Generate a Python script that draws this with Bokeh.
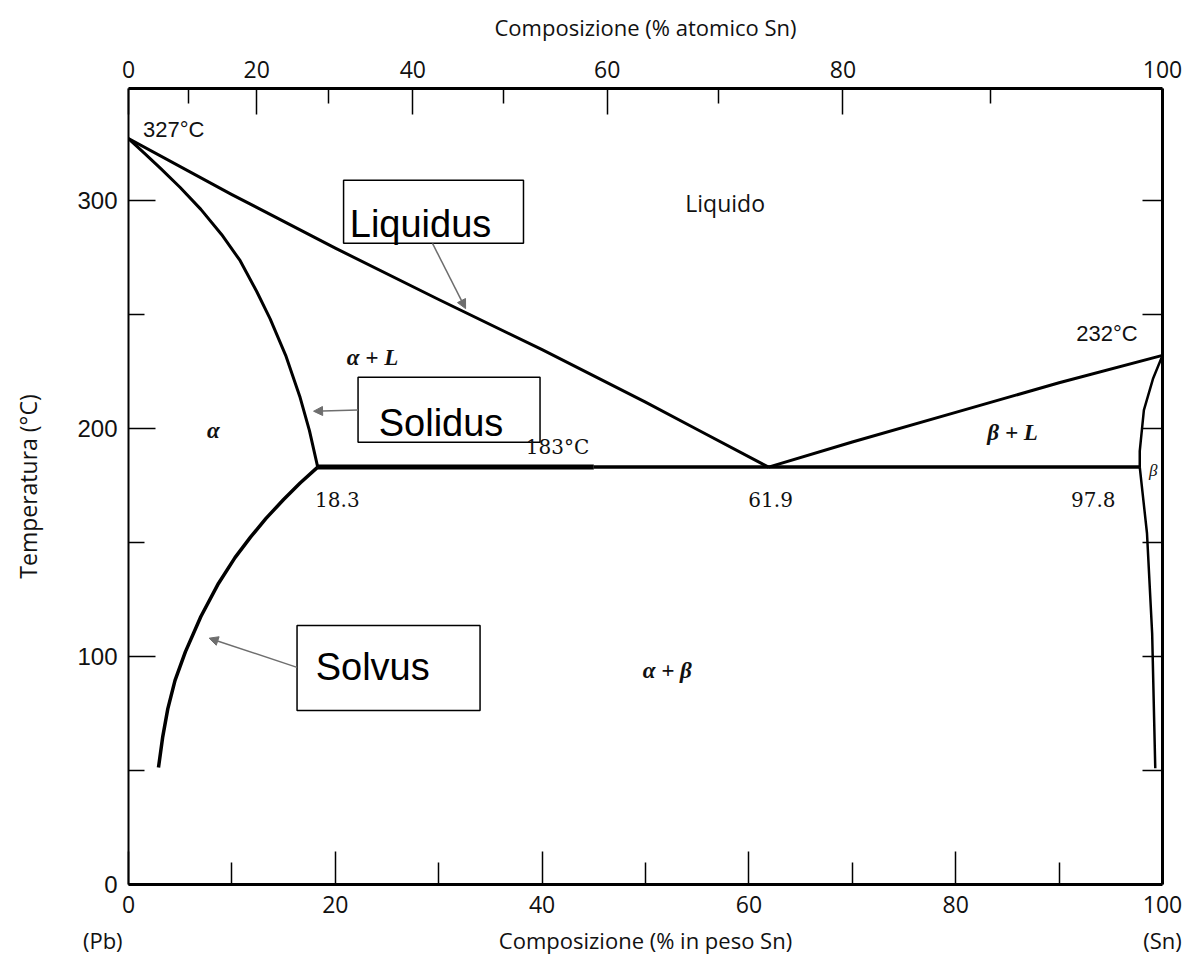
from bokeh.plotting import figure
from bokeh.models import (Range1d, LinearAxis, FixedTicker, Label, Arrow, NormalHead,
                          CustomJSTickFormatter)
from bokeh.embed import file_html
from bokeh.resources import INLINE

# ---------------- data (wt% Sn, temperature in degC) ----------------
liquidus_left_x = [0, 10, 20, 30, 40, 50, 55, 61.9]
liquidus_left_t = [327, 302.5, 279, 256.5, 234.5, 211.5, 199.5, 183]
liquidus_right_x = [61.9, 70, 80, 90, 100]
liquidus_right_t = [183, 194, 207, 220, 232]
solidus_alpha_x = [0, 1.5, 3.1, 5.0, 7.0, 9.0, 10.8, 12.4, 13.7, 15.2, 16.6, 17.5, 18.3]
solidus_alpha_t = [327, 320.8, 314, 305.6, 296, 285, 273.5, 260, 248, 232, 213.5, 199, 183]
solvus_alpha_x = [18.3, 16.6, 15.0, 13.3, 11.8, 10.3, 8.7, 7.0, 5.5, 4.5, 3.8, 3.3, 2.9]
solvus_alpha_t = [183, 176, 168.8, 160.5, 152.3, 143.3, 132, 117.5, 102, 89.5, 77, 64.5, 51.3]
solidus_beta_x = [100, 99.1, 98.2, 97.8, 97.8]
solidus_beta_t = [232, 222, 208, 190, 183]
solvus_beta_x = [97.8, 98.5, 99.0, 99.3]
solvus_beta_t = [183, 154, 110, 51]
eutectic_thick_x = [18.3, 45]
eutectic_thin_x = [45, 97.8]
eutectic_t = [183, 183]

# axis ticks
bottom_ticks = [0, 20, 40, 60, 80, 100]
bottom_minor = [10, 30, 50, 70, 90]
left_ticks = [0, 100, 200, 300]
left_minor = [50, 150, 250]
right_ticks = [50, 100, 150, 200, 250, 300]
# top axis: atomic % Sn labels, placed at the equivalent wt% positions
top_tick_pos = [0, 12.4, 27.5, 46.3, 69.1, 100]
top_tick_labels = ["0", "20", "40", "60", "80", "100"]
top_minor_pos = [5.8, 19.3, 36.3, 57.1, 83.4]
# lower caption row: pure elements at the ends, axis title in the middle
caption_pos = [0, 50, 100]
caption_labels = ["(Pb)" + "\u00a0" * 9, "Composizione (% in peso Sn)", "(Sn)"]

# text annotations: (text, x, t)
point_labels = [("18.3", 20.2, 169), ("61.9", 62.1, 169), ("97.8", 93.3, 169)]
greek_labels = [("\u03b1 + L", 23.6, 231), ("\u03b1", 8.2, 199), ("\u03b2 + L", 85.5, 198),
                ("\u03b1 + \u03b2", 52.1, 94)]

# callout boxes: name, left, right, bottom, top, text x, text baseline t
callouts = [("Liquidus", 20.8, 38.2, 281.1, 308.8, 21.4, 289.5),
            ("Solidus", 22.2, 39.8, 193.9, 222.4, 24.2, 202.5),
            ("Solvus", 16.3, 34.0, 76.3, 113.6, 18.1, 95.5)]
# arrows: x_start, t_start, x_end, t_end
arrows = [(29.4, 281.1, 32.6, 252.5),
          (22.2, 208.0, 17.9, 207.5),
          (16.3, 95.2, 7.8, 108.0)]

LOOKUP = """
let best = 0, d = 1e9;
for (let i = 0; i < pos.length; i++) {
  const dd = Math.abs(pos[i] - tick);
  if (dd < d) { d = dd; best = i; }
}
return labels[best];
"""

# ---------------- figure ----------------
p = figure(width=1190, height=964, x_range=Range1d(0, 100), y_range=Range1d(0, 349),
           output_backend="svg", toolbar_location=None,
           min_border_left=128, min_border_right=28, min_border_top=88, min_border_bottom=80)
p.grid.visible = False
p.outline_line_color = None
p.background_fill_color = "white"
p.border_fill_color = "white"

bottom = p.xaxis[0]
left = p.yaxis[0]
bottom.ticker = FixedTicker(ticks=bottom_ticks, minor_ticks=bottom_minor)
left.ticker = FixedTicker(ticks=left_ticks, minor_ticks=left_minor)

top = LinearAxis(ticker=FixedTicker(ticks=top_tick_pos, minor_ticks=top_minor_pos),
                 formatter=CustomJSTickFormatter(
                     args=dict(pos=top_tick_pos, labels=top_tick_labels), code=LOOKUP))
p.add_layout(top, "above")

# right axis: ticks only (no labels)
right = LinearAxis(ticker=FixedTicker(ticks=[], minor_ticks=right_ticks))
p.add_layout(right, "right")

for ax in (bottom, left, top, right):
    ax.major_tick_out = 0
    ax.minor_tick_out = 0
    ax.major_tick_line_color = "black"
    ax.minor_tick_line_color = "black"
    ax.major_tick_line_width = 1.5
    ax.minor_tick_line_width = 1.5
    ax.axis_line_color = "black"
    ax.axis_line_width = 3
    ax.major_label_text_color = "#111111"
    ax.axis_label_text_font_style = "normal"
    ax.axis_label_text_color = "#111111"

left.axis_line_width = 2
bottom.major_tick_in = 33
bottom.minor_tick_in = 22
left.major_tick_in = 27
left.minor_tick_in = 16
top.major_tick_in = 26
top.minor_tick_in = 15
right.minor_tick_in = 20

bottom.major_label_text_font = "Open Sans"
bottom.major_label_text_font_size = "23px"
bottom.major_label_standoff = 11

# caption row below the bottom axis
caption = LinearAxis(ticker=FixedTicker(ticks=caption_pos, minor_ticks=[]),
                     formatter=CustomJSTickFormatter(
                         args=dict(pos=caption_pos, labels=caption_labels), code=LOOKUP))
caption.axis_line_color = None
caption.major_tick_line_color = None
caption.minor_tick_line_color = None
caption.major_tick_in = 0
caption.major_tick_out = 0
caption.minor_tick_in = 0
caption.minor_tick_out = 0
caption.major_label_standoff = 9
caption.major_label_text_font = "Open Sans"
caption.major_label_text_font_size = "22px"
caption.major_label_text_color = "#111111"
p.add_layout(caption, "below")

top.major_label_text_font = "Open Sans"
top.major_label_text_font_size = "23px"
top.major_label_standoff = 11
top.axis_label = "Composizione (% atomico Sn)"
top.axis_label_text_font = "Open Sans"
top.axis_label_text_font_size = "22px"
top.axis_label_standoff = 16

left.major_label_text_font = "Liberation Sans"
left.major_label_text_font_size = "24px"
left.major_label_standoff = 11
left.axis_label = "Temperatura (\u00b0C)"
left.axis_label_text_font = "Open Sans"
left.axis_label_text_font_size = "23px"
left.axis_label_standoff = 30

# ---------------- phase boundaries ----------------
lw = 3
p.line(liquidus_left_x, liquidus_left_t, line_color="black", line_width=lw, line_join="round")
p.line(liquidus_right_x, liquidus_right_t, line_color="black", line_width=lw, line_join="round")
p.line(solidus_alpha_x, solidus_alpha_t, line_color="black", line_width=lw, line_join="round")
p.line(solvus_alpha_x, solvus_alpha_t, line_color="black", line_width=3.5, line_join="round")
p.line(solidus_beta_x, solidus_beta_t, line_color="black", line_width=2.5, line_join="round")
p.line(solvus_beta_x, solvus_beta_t, line_color="black", line_width=2.5, line_join="round")
p.line(eutectic_thick_x, eutectic_t, line_color="black", line_width=5)
p.line(eutectic_thin_x, eutectic_t, line_color="black", line_width=3.5)

# ---------------- callout boxes ----------------
for name, l, r, b, t, tx, ty in callouts:
    p.quad(left=[l], right=[r], bottom=[b], top=[t], fill_color="white",
           line_color="black", line_width=1.5)
    p.add_layout(Label(x=tx, y=ty, text=name, text_font="Liberation Sans",
                       text_font_size="38px", text_color="black",
                       text_align="left", text_baseline="alphabetic"))

arrow_color = "#6e6e6e"
for xs, ys, xe, ye in arrows:
    p.add_layout(Arrow(end=NormalHead(size=9, fill_color=arrow_color, line_color=arrow_color,
                                      line_width=1),
                       x_start=xs, y_start=ys, x_end=xe, y_end=ye,
                       line_color=arrow_color, line_width=1.5))

# ---------------- text labels ----------------
p.add_layout(Label(x=1.4, y=331, text="327\u00b0C", text_font="Liberation Sans",
                   text_font_size="22px", text_align="left", text_baseline="middle",
                   text_color="#111111"))
p.add_layout(Label(x=97.6, y=241.5, text="232\u00b0C", text_font="Liberation Sans",
                   text_font_size="22px", text_align="right", text_baseline="middle",
                   text_color="#111111"))
p.add_layout(Label(x=57.7, y=299, text="Liquido", text_font="Open Sans",
                   text_font_size="23px", text_align="center", text_baseline="middle",
                   text_color="#111111"))
p.add_layout(Label(x=41.5, y=191.7, text="183\u00b0C", text_font="DejaVu Serif",
                   text_font_size="20px", text_align="center", text_baseline="middle",
                   text_color="#111111"))
for txt, x, t in point_labels:
    p.add_layout(Label(x=x, y=t, text=txt, text_font="DejaVu Serif", text_font_size="20px",
                       text_align="center", text_baseline="middle", text_color="#111111"))
for txt, x, t in greek_labels:
    p.add_layout(Label(x=x, y=t, text=txt, text_font="Liberation Serif", text_font_size="23px",
                       text_font_style="bold italic", text_align="center",
                       text_baseline="middle", text_color="#111111"))
p.add_layout(Label(x=99.1, y=181.6, text="\u03b2", text_font="Liberation Serif",
                   text_font_size="17px", text_font_style="italic", text_align="center",
                   text_baseline="middle", text_color="#111111"))

open("out.html", "w").write(file_html(p, INLINE))
